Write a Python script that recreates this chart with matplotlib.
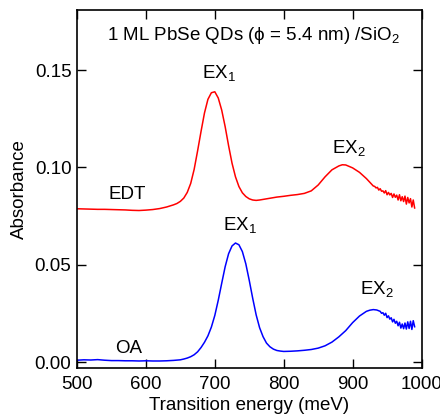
import numpy as np
import matplotlib.pyplot as plt
from matplotlib.ticker import FormatStrFormatter

plt.rcParams['font.family'] = ['Liberation Sans', 'DejaVu Sans']
plt.rcParams['mathtext.fontset'] = 'custom'
plt.rcParams['mathtext.rm'] = 'Liberation Sans'

# EDT-treated film (red), energies in meV
edt_energy = [500, 510, 520, 530, 540, 550, 560, 570, 580, 590, 600, 610, 620,
              630, 640, 645, 650, 655, 660, 665, 670, 675, 680, 685, 690, 695,
              700, 705, 710, 715, 720, 725, 730, 735, 740, 745, 750, 755, 760,
              765, 770, 780, 790, 800, 810, 820, 830, 840, 850, 860, 870, 880,
              885, 890, 900, 910, 920, 930,
              932, 934, 936, 938, 940, 942, 944, 946, 948, 950, 952, 954, 956,
              958, 960, 962, 964, 966, 968, 970, 972, 974, 976, 978, 980, 982,
              984, 986, 988, 990]
edt_abs = [0.0788, 0.0787, 0.0786, 0.0785, 0.0785, 0.0784, 0.0783, 0.0782,
           0.0780, 0.0779, 0.0781, 0.0784, 0.0789, 0.0797, 0.0808, 0.0815,
           0.0826, 0.0843, 0.0872, 0.0918, 0.0990, 0.1085, 0.1185, 0.1280,
           0.1350, 0.1384, 0.1389, 0.1357, 0.1295, 0.1210, 0.1112, 0.1022,
           0.0952, 0.0902, 0.0870, 0.0851, 0.0839, 0.0833, 0.0831, 0.0833,
           0.0836, 0.0842, 0.0848, 0.0852, 0.0857, 0.0861, 0.0867, 0.0880,
           0.0910, 0.0952, 0.0988, 0.1008, 0.1014, 0.1013, 0.0998, 0.0975,
           0.0943, 0.0905,
           0.0903, 0.0895, 0.0898, 0.0884, 0.0891, 0.0878, 0.0880, 0.0869,
           0.0881, 0.0860, 0.0872, 0.0859, 0.0867, 0.0846, 0.0864, 0.0847,
           0.0858, 0.0833, 0.0860, 0.0829, 0.0850, 0.0825, 0.0853, 0.0812,
           0.0846, 0.0818, 0.0840, 0.0797, 0.0833, 0.0792]

# OA-capped film (blue)
oa_energy = [500, 510, 520, 530, 540, 550, 560, 570, 580, 590, 600, 610, 620,
             630, 640, 650, 655, 660, 665, 670, 675, 680, 685, 690, 695, 700,
             705, 710, 715, 720, 725, 730, 735, 740, 745, 750, 755, 760, 765,
             770, 775, 780, 785, 790, 795, 800, 810, 820, 830, 840, 850, 860,
             870, 880, 890, 900, 910, 920, 925, 930, 935,
             940, 942, 944, 946, 948, 950, 952, 954, 956, 958, 960, 962, 964,
             966, 968, 970, 972, 974, 976, 978, 980, 982, 984, 986, 988, 990]
oa_abs = [0.0010, 0.0012, 0.0011, 0.0013, 0.0010, 0.0008, 0.0008, 0.0007,
          0.0007, 0.0006, 0.0007, 0.0006, 0.0006, 0.0007, 0.0009, 0.0012,
          0.0016, 0.0021, 0.0028, 0.0038, 0.0053, 0.0075, 0.0102, 0.0135,
          0.0180, 0.0240, 0.0318, 0.0405, 0.0490, 0.0557, 0.0597, 0.0612,
          0.0603, 0.0568, 0.0505, 0.0420, 0.0328, 0.0243, 0.0177, 0.0131,
          0.0098, 0.0079, 0.0067, 0.0060, 0.0057, 0.0055, 0.0056, 0.0058,
          0.0061, 0.0065, 0.0072, 0.0084, 0.0103, 0.0130, 0.0162, 0.0203,
          0.0237, 0.0261, 0.0267, 0.0270, 0.0268,
          0.0261, 0.0251, 0.0254, 0.0241, 0.0251, 0.0229, 0.0238, 0.0221,
          0.0228, 0.0207, 0.0220, 0.0200, 0.0210, 0.0187, 0.0205, 0.0175,
          0.0196, 0.0172, 0.0201, 0.0170, 0.0207, 0.0173, 0.0210, 0.0168,
          0.0213, 0.0182]

x_ticks = [500, 600, 700, 800, 900, 1000]
y_ticks = [0.00, 0.05, 0.10, 0.15]

fig = plt.figure(figsize=(4.4, 4.16), dpi=100)
ax = fig.add_axes([0.175, 0.1154, 0.783, 0.861])

ax.plot(edt_energy, edt_abs, color='#ff0000', lw=1.1)
ax.plot(oa_energy, oa_abs, color='#0000ff', lw=1.1)

fs = 13.5
ax.text(544, 0.1655, '1 ML PbSe QDs (\u03d5 = 5.4 nm) /SiO$_2$', fontsize=fs)
ax.text(681.7, 0.1454, 'EX$_1$', fontsize=fs)
ax.text(712.6, 0.0674, 'EX$_1$', fontsize=fs)
ax.text(870, 0.1071, 'EX$_2$', fontsize=fs)
ax.text(911, 0.0349, 'EX$_2$', fontsize=fs)
ax.text(546, 0.0837, 'EDT', fontsize=fs)
ax.text(556, 0.0048, 'OA', fontsize=fs)

ax.set_xlim(500, 1000)
ax.set_ylim(-0.003, 0.181)
ax.set_xticks(x_ticks)
ax.set_yticks(y_ticks)
ax.yaxis.set_major_formatter(FormatStrFormatter('%.2f'))
ax.tick_params(direction='in', length=6.5, width=1, top=True, right=True,
               labelsize=fs, pad=4)
ax.tick_params(axis='x', pad=6)
for s in ax.spines.values():
    s.set_linewidth(1.2)

ax.set_xlabel('Transition energy (meV)', fontsize=fs, labelpad=3)
ax.set_ylabel('Absorbance', fontsize=fs, labelpad=5)

fig.savefig('out.png', dpi=100)
